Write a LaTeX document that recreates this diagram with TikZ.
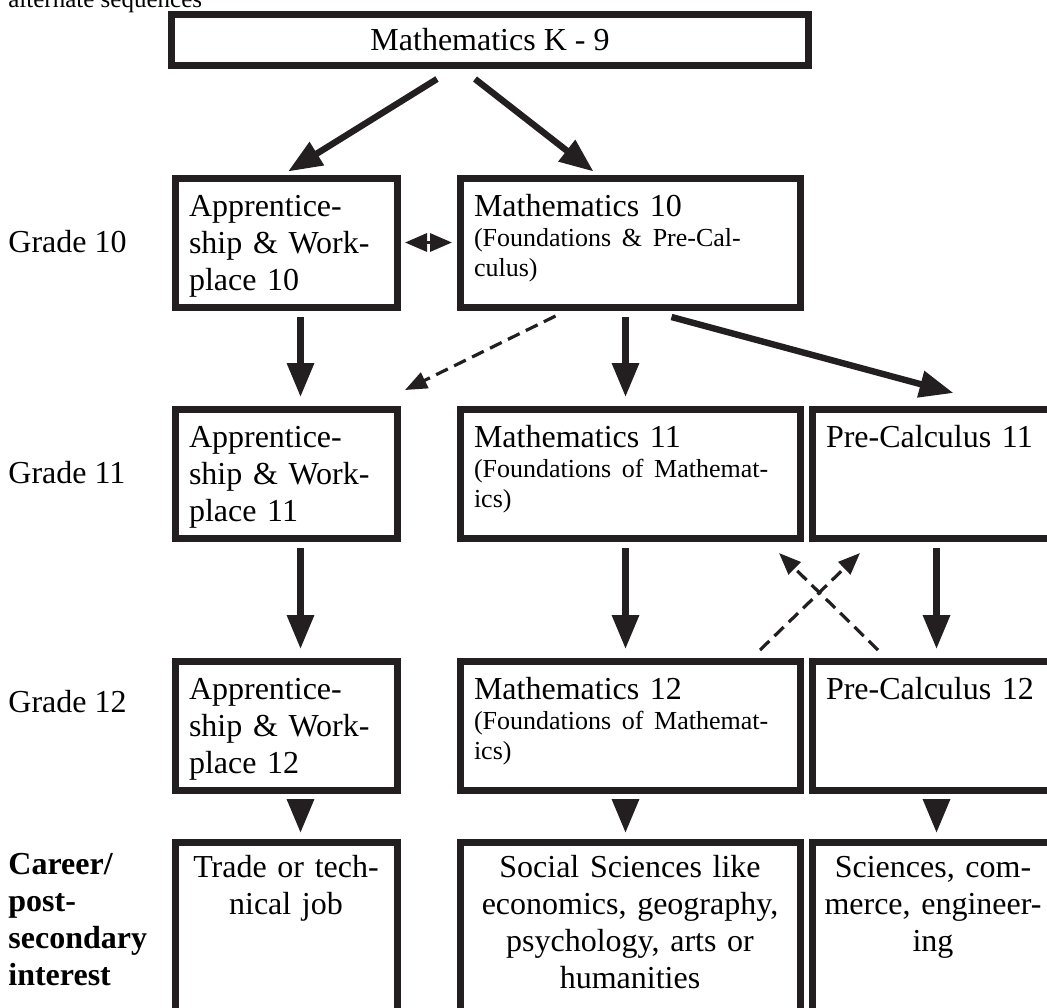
\documentclass[tikz,border=0pt]{standalone}
\usepackage{fontspec}
\setmainfont{Liberation Serif}
\usetikzlibrary{arrows.meta,calc}
\definecolor{InkBlack}{HTML}{231F20}
\newcommand{\coursenote}[1]{{\fontsize{13}{15}\selectfont #1\par}}

\begin{document}
\begin{tikzpicture}[
  x=0.5pt, y=-0.5pt,
  course/.style={rectangle, draw=InkBlack, line width=3.5pt, anchor=north west, inner xsep=7pt, inner ysep=4pt, align=left, text height=15.25pt, text depth=41.25pt, font=\fontsize{16}{18.5}\selectfont},
  career/.style={course, align=center, text height=13.75pt, text depth=65pt},
  colA/.style={text width=97pt},
  colB/.style={text width=156pt},
  colC/.style={inner xsep=4pt, text width=113pt},
  gradelabel/.style={anchor=base west, inner sep=0pt, font=\fontsize{16}{18.5}\selectfont},
  flowarrow/.style={draw=InkBlack, line width=3.2pt, -{Triangle[length=17pt,width=13pt]}},
  altarrow/.style={draw=InkBlack, line width=1.6pt, dash pattern=on 6.5pt off 3.5pt, -{Triangle[length=11pt,width=8.5pt]}},
  swaparrow/.style={draw=InkBlack, line width=1.6pt, dash pattern=on 2pt off 1.5pt, {Triangle[length=11pt,width=9pt]}-{Triangle[length=11pt,width=9pt]}, shorten <=2.25pt, shorten >=2.25pt}
]
\path[use as bounding box, clip] (0,0) rectangle (1047,1007);

% Caption line, cut at the top
\node[anchor=base west, inner sep=0pt, font=\fontsize{12.5}{15}\selectfont] (seqnote) at (8,7) {alternate sequences};

% Start
\node[draw=InkBlack, line width=3.5pt, minimum width=318.5pt, minimum height=25.5pt, inner sep=0pt, font=\fontsize{16}{18.5}\selectfont] (k9) at (490,40) {Mathematics K - 9};

% Row labels
\node[gradelabel] (g10) at (8,252) {Grade 10};
\node[gradelabel] (g11) at (8,483) {Grade 11};
\node[gradelabel] (g12) at (8,712) {Grade 12};
\node[gradelabel, text width=80pt, align=left, font=\fontsize{16}{18.5}\selectfont\bfseries] (interest) at (8,874) {Career/\\post-\\secondary\\interest};

% Grade 10
\node[course, colA] (aw10) at (171.5,174.5) {Apprentice-\\ship \& Work-\\place 10};
\node[course, colB] (m10) at (456.5,174.5) {Mathematics 10\par\coursenote{(Foundations \& Pre-Cal-\\culus)}};

% Grade 11
\node[course, colA] (aw11) at (171.5,405.5) {Apprentice-\\ship \& Work-\\place 11};
\node[course, colB] (m11) at (456.5,405.5) {Mathematics 11\par\coursenote{(Foundations of Mathemat-\\ics)}};
\node[course, colC] (pc11) at (808.5,405.5) {\hspace*{3pt}Pre-Calculus 11};

% Grade 12
\node[course, colA] (aw12) at (171.5,657.5) {Apprentice-\\ship \& Work-\\place 12};
\node[course, colB] (m12) at (456.5,657.5) {Mathematics 12\par\coursenote{(Foundations of Mathemat-\\ics)}};
\node[course, colC] (pc12) at (808.5,657.5) {\hspace*{3pt}Pre-Calculus 12};

% Career / post-secondary
\node[career, colA] (trade) at (171.5,838.5) {Trade or tech-\\nical job};
\node[career, colB] (social) at (456.5,838.5) {Social Sciences like\\economics, geography,\\psychology, arts or\\humanities};
\node[career, colC] (sci) at (808.5,838.5) {Sciences, com-\\merce, engineer-\\ing};

% From K-9
\draw[flowarrow] ($(k9.south)+(-53,10)$) -- ($(aw10.north)+(2,-3)$);
\draw[flowarrow] ($(k9.south)+(-15,10)$) -- ($(m10.north)+(-36.5,-3)$);

% Grade 10 to 11
\draw[swaparrow] (aw10.east) -- (m10.west);
\draw[flowarrow] ($(aw10.south)+(14.5,6.5)$) -- ($(aw11.north)+(14.5,-8.5)$);
\draw[flowarrow] ($(m10.south)+(-4.5,6.5)$) -- ($(m11.north)+(-4.5,-8.5)$);
\draw[altarrow] ($(m10.south)+(-74.5,5.5)$) -- ($(aw11.north east)+(4.5,-15.5)$);
\draw[flowarrow] ($(m10.south)+(41.5,6.5)$) -- ($(pc11.north)+(20.5,-12.5)$);

% Grade 11 to 12
\draw[flowarrow] ($(aw11.south)+(14.5,6.5)$) -- ($(aw12.north)+(14.5,-8.5)$);
\draw[flowarrow] ($(m11.south)+(-4.5,6.5)$) -- ($(m12.north)+(-4.5,-8.5)$);
\draw[flowarrow] ($(pc11.south)+(3.5,6.5)$) -- ($(pc12.north)+(3.5,-8.5)$);
\draw[altarrow] ($(m12.north east)+(-43.5,-7.5)$) -- ($(pc11.south west)+(51.5,11.5)$);
\draw[altarrow] ($(pc12.north west)+(69.5,-7.5)$) -- ($(m11.south east)+(-24.5,11.5)$);

% Grade 12 to career
\draw[flowarrow] ($(aw12.south)+(14.5,5.5)$) -- ($(trade.north)+(14.5,-5.5)$);
\draw[flowarrow] ($(m12.south)+(-4.5,5.5)$) -- ($(social.north)+(-4.5,-5.5)$);
\draw[flowarrow] ($(pc12.south)+(3.5,5.5)$) -- ($(sci.north)+(3.5,-5.5)$);

\end{tikzpicture}
\end{document}
